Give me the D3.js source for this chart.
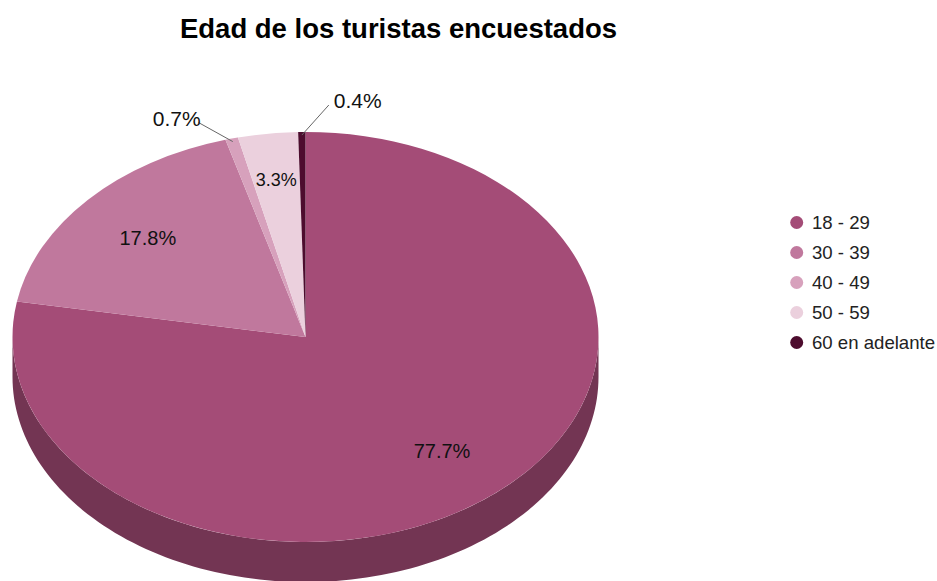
<!DOCTYPE html>
<html>
<head>
<meta charset="utf-8">
<script src="https://cdn.jsdelivr.net/npm/d3@7"></script>
<style>
  html, body { margin: 0; padding: 0; background: #ffffff; }
  svg { display: block; font-family: "Liberation Sans", Arial, sans-serif; }
</style>
</head>
<body>
<svg id="chart" width="937" height="581"></svg>
<script>
// ---- Data ----
const title = "Edad de los turistas encuestados";
const categories = ["18 - 29", "30 - 39", "40 - 49", "50 - 59", "60 en adelante"];
const values = [77.7, 17.8, 0.7, 3.3, 0.4];
const colors = ["#a44c77", "#c0789d", "#d7a1bc", "#ebd0dd", "#4d0c2e"];

// ---- Layout ----
const W = 937, H = 581;
const cx = 305.5, cy = 337, rx = 293, ry = 205, depth = 40;

const svg = d3.select("#chart");

const data = categories.map((c, i) => ({ category: c, value: values[i] }));
const color = d3.scaleOrdinal().domain(categories).range(colors);
const pct = d3.format(".1f");

const pie = d3.pie().sort(null).value(d => d.value).startAngle(0).endAngle(2 * Math.PI);
const arcs = pie(data);

// angle -> point on ellipse (d3 convention: 0 = 12 o'clock, clockwise)
const px = (a, r = 1) => cx + rx * r * Math.sin(a);
const py = (a, r = 1) => cy - ry * r * Math.cos(a);

// ---- Sides (front half only) ----
const sideG = svg.append("g");
const line = d3.line();
arcs.forEach(d => {
  const s = Math.max(d.startAngle, Math.PI / 2);
  const e = Math.min(d.endAngle, 3 * Math.PI / 2);
  if (e <= s) return;
  const n = 120;
  const angs = d3.range(n + 1).map(k => s + (e - s) * k / n);
  const topPts = angs.map(a => [px(a), py(a)]);
  const botPts = angs.slice().reverse().map(a => [px(a), py(a) + depth]);
  sideG.append("path")
    .attr("d", line(topPts.concat(botPts)) + "Z")
    .attr("fill", d3.color(color(d.data.category)).darker(1.0));
});

// ---- Top faces ----
const topG = svg.append("g");
arcs.forEach(d => {
  const a0 = d.startAngle, a1 = d.endAngle;
  const large = (a1 - a0) > Math.PI ? 1 : 0;
  const path = `M${cx},${cy}L${px(a0)},${py(a0)}A${rx},${ry} 0 ${large} 1 ${px(a1)},${py(a1)}Z`;
  topG.append("path").attr("d", path).attr("fill", color(d.data.category));
});

// ---- Slice labels ----
const labelG = svg.append("g").attr("fill", "#111");
// outside-label layout for very thin slices: offset of leader end from the edge point
const outside = {
  "40 - 49": { dx: -33, dy: -16, anchor: "end" },
  "60 en adelante": { dx: 27, dy: -27, anchor: "start" }
};
arcs.forEach(d => {
  const mid = (d.startAngle + d.endAngle) / 2;
  const txt = pct(d.data.value) + "%";
  const o = outside[d.data.category];
  if (o) {
    const x0 = px(mid, 0.985), y0 = py(mid, 0.985);
    const x1 = px(mid) + o.dx, y1 = py(mid) + o.dy;
    labelG.append("line")
      .attr("x1", x0).attr("y1", y0).attr("x2", x1).attr("y2", y1)
      .attr("stroke", "#666").attr("stroke-width", 1);
    labelG.append("text")
      .attr("x", o.anchor === "end" ? x1 + 2 : x1 + 5)
      .attr("y", y1 + 3)
      .attr("text-anchor", o.anchor)
      .attr("font-size", 21)
      .text(txt);
  } else {
    const r = d.data.value < 5 ? 0.775 : 0.725;
    labelG.append("text")
      .attr("x", px(mid, r))
      .attr("y", py(mid, r))
      .attr("dy", "0.36em")
      .attr("text-anchor", "middle")
      .attr("font-size", d.data.value < 5 ? 18 : 20)
      .text(txt);
  }
});

// ---- Title ----
svg.append("text")
  .attr("x", 398.5).attr("y", 37.5)
  .attr("text-anchor", "middle")
  .attr("font-size", 27.5)
  .attr("font-weight", "bold")
  .attr("fill", "#000")
  .text(title);

// ---- Legend ----
const ly = d3.scalePoint().domain(categories).range([222.5, 342.5]);
const leg = svg.append("g");
categories.forEach(c => {
  leg.append("circle").attr("cx", 796.7).attr("cy", ly(c)).attr("r", 6.5).attr("fill", color(c));
  leg.append("text")
    .attr("x", 812).attr("y", ly(c)).attr("dy", "0.36em")
    .attr("font-size", 18.6).attr("fill", "#222")
    .text(c);
});
</script>
</body>
</html>
